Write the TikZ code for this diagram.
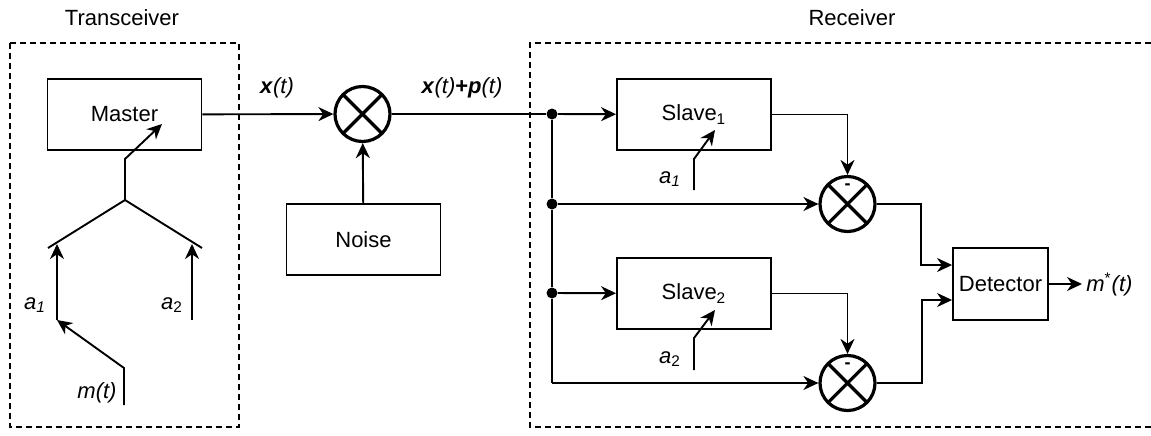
\documentclass[tikz,border=0pt]{standalone}
\usepackage{fontspec}
\setmainfont{Liberation Sans}
\usetikzlibrary{arrows.meta}
\usetikzlibrary{positioning}
\tikzset {
  sig/.style = {
    draw = black,
    line width = 0.95pt
  },
  % signal path ending in a filled arrow
  arr/.style = {
    sig,
    -{Stealth[length=7.5pt,width=7pt,inset=2.4pt]}
  },
  % dashed enclosure of a unit
  group/.style = {
    draw = black,
    line width = 0.85pt,
    dash pattern = on 3pt off 2pt
  }
}
\tikzset {
  block/.style = {
    draw = black,
    line width = 0.95pt,
    rectangle,
    minimum width = 77pt,
    minimum height = 35.5pt,
    inner sep = 0pt,
    font = \fontsize{11}{13}\selectfont
  },
  % multiplier: circle with a cross
  mixer/.style = {
    draw = black,
    circle,
    line width = 1.6pt,
    minimum size = 27.5pt,
    inner sep = 0pt,
    path picture = {
      \draw[line width=1.6pt]
        (path picture bounding box.north east) -- (path picture bounding box.south west)
        (path picture bounding box.north west) -- (path picture bounding box.south east);
    }
  },
  junction/.style = {
    circle,
    fill = black,
    minimum size = 5.5pt,
    inner sep = 0pt
  },
  lbl/.style = {
    inner sep = 0pt,
    font = \fontsize{11}{13}\selectfont
  },
  minus/.style = {
    inner sep = 0pt,
    font = \fontsize{9}{10}\selectfont\bfseries
  }
}

\begin{document}
\begin{tikzpicture}[x=0.5pt, y=-0.5pt]
    \useasboundingbox (0,0) rectangle (1151,435);

    % units
    \draw[group] (10,43) rectangle (239,427);
    \draw[group] (1151,43) -- (530,43) -- (530,427) -- (1151,427);
    \node[lbl] (txtitle) at (122,18) {Transceiver};
    \node[lbl] (rxtitle) at (852,18) {Receiver};

    % channel
    \node[block] (master) at (124.5,114.5) {Master};
    \node[mixer] (mix) at (362.5,114) {};
    \node[block] (noise) at (363.5,239.5) {Noise};
    \node[lbl] (xlabel) at (277,88) {\textbf{\textit{x}}\textit{(t)}};
    \node[lbl] (xplabel) at (462,88) {\textbf{\textit{x}}\textit{(t)}\textbf{+}\textbf{\textit{p}}\textit{(t)}};

    \draw[arr] (master) -- (mix);
    \draw[arr] (noise) -- (mix);

    % key switch in the transceiver
    \coordinate (sw) at (125,200);
    \coordinate (swl) at (48,248);
    \coordinate (swr) at (202,248);
    \coordinate (swup) at (125,159);
    \coordinate (swtip) at (162,124);
    \coordinate (a1in) at (57,320);
    \coordinate (a1tip) at (57,244);
    \coordinate (a2in) at (192,320);
    \coordinate (a2tip) at (192,244);
    \coordinate (msg) at (124,405);
    \coordinate (msgup) at (124,368);
    \node[lbl] (a1) at (35,305) {\textit{a}\textsubscript{\textit{1}}};
    \node[lbl] (a2) at (172,305) {\textit{a}\textsubscript{2}};
    \node[lbl] (mt) at (97,393) {\textit{m(t)}};

    \draw[sig] (swl) -- (sw) -- (swr);
    \draw[arr] (sw) -- (swup) -- (swtip);
    \draw[arr] (a1in) -- (a1tip);
    \draw[arr] (a2in) -- (a2tip);
    \draw[arr] (msg) -- (msgup) -- (a1in);

    % receiver
    \node[junction] (d1) at (552,114) {};
    \node[junction] (d2) at (552,204) {};
    \node[junction] (d3) at (552,293) {};
    \coordinate (d4) at (552,383);
    \node[block] (slave1) at (694,114.5) {Slave\textsubscript{1}};
    \node[block] (slave2) at (694,293.5) {Slave\textsubscript{2}};
    \node[mixer] (mix1) at (847.5,204) {};
    \node[mixer] (mix2) at (847.5,383) {};
    \node[minus] (neg1) at (847.5,187) {-};
    \node[minus] (neg2) at (847.5,366) {-};
    \node[block, minimum width=47.5pt, minimum height=36pt] (det) at (1000.5,284) {Detector};
    \coordinate (detin1) at (det.west |- 0,265);
    \coordinate (detin2) at (det.west |- 0,300);
    \coordinate (bend1) at (921,265);
    \coordinate (bend2) at (922,300);
    \coordinate (out) at (1082,284);
    \node[lbl, anchor=west] (mstar) at (1086,284) {\textit{m}\textsuperscript{*}\textit{(t)}};

    \coordinate (s1in) at (694,190);
    \coordinate (s1up) at (694,159);
    \coordinate (s1tip) at (715,130);
    \coordinate (s2in) at (694,370);
    \coordinate (s2up) at (694,338);
    \coordinate (s2tip) at (715,310);
    \node[lbl] (sa1) at (670,179) {\textit{a}\textsubscript{\textit{1}}};
    \node[lbl] (sa2) at (670,359) {\textit{a}\textsubscript{2}};

    \draw[sig] (mix) -- (d1);
    \draw[sig] (d1) -- (d2) -- (d3) -- (d4);
    \draw[arr] (d1) -- (slave1);
    \draw[arr] (d2) -- (mix1);
    \draw[arr] (d3) -- (slave2);
    \draw[arr] (d4) -- (mix2);
    \draw[arr] (slave1) -| (mix1);
    \draw[arr] (slave2) -| (mix2);
    \draw[arr] (s1in) -- (s1up) -- (s1tip);
    \draw[arr] (s2in) -- (s2up) -- (s2tip);
    \draw[arr] (mix1) -| (bend1) -- (detin1);
    \draw[arr] (mix2) -| (bend2) -- (detin2);
    \draw[arr] (det) -- (out);
\end{tikzpicture}
\end{document}
